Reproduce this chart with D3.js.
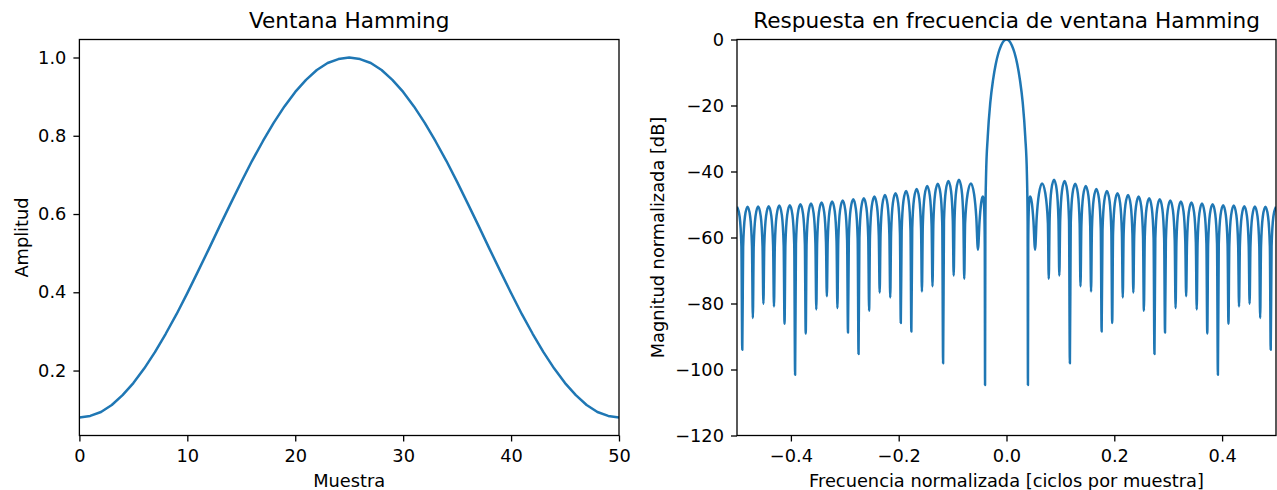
<!DOCTYPE html>
<html>
<head>
<meta charset="utf-8">
<script src="https://cdn.jsdelivr.net/npm/d3@7"></script>
<style>
  body { margin: 0; background: #fff; }
  text { font-family: "DejaVu Sans", sans-serif; fill: #000; }
</style>
</head>
<body>
<div id="container"></div>
<script>
// ventana de Hamming, 51 muestras
var hammingValues = [0.080, 0.084, 0.094, 0.112, 0.137, 0.168, 0.205, 0.247, 0.294, 0.344,
  0.398, 0.454, 0.511, 0.569, 0.626, 0.682, 0.736, 0.786, 0.833, 0.875,
  0.912, 0.943, 0.968, 0.986, 0.996, 1.000, 0.996, 0.986, 0.968, 0.943,
  0.912, 0.875, 0.833, 0.786, 0.736, 0.682, 0.626, 0.569, 0.511, 0.454,
  0.398, 0.344, 0.294, 0.247, 0.205, 0.168, 0.137, 0.112, 0.094, 0.084, 0.080];

// respuesta en frecuencia [frecuencia, dB], lado negativo
var negSide = [
  [-0.5000,-50.7],[-0.4951,-53.7],[-0.4918,-62.7],[-0.4902,-94.0],
  [-0.4886,-62.7],[-0.4853,-53.7],[-0.4804,-50.7],[-0.4755,-53.7],[-0.4722,-62.7],[-0.4706,-84.4],
  [-0.4690,-62.6],[-0.4657,-53.6],[-0.4608,-50.6],[-0.4559,-53.6],[-0.4526,-62.6],[-0.4510,-80.1],
  [-0.4494,-62.5],[-0.4461,-53.5],[-0.4412,-50.5],[-0.4363,-53.5],[-0.4330,-62.5],[-0.4314,-80.9],
  [-0.4298,-62.3],[-0.4265,-53.3],[-0.4216,-50.3],[-0.4167,-53.3],[-0.4134,-62.3],[-0.4118,-86.1],
  [-0.4102,-62.2],[-0.4069,-53.2],[-0.4020,-50.2],[-0.3971,-53.2],[-0.3938,-62.2],[-0.3922,-101.6],
  [-0.3906,-61.9],[-0.3873,-52.9],[-0.3824,-49.9],[-0.3774,-52.9],[-0.3741,-61.9],[-0.3725,-89.1],
  [-0.3709,-61.7],[-0.3676,-52.7],[-0.3627,-49.7],[-0.3578,-52.7],[-0.3545,-61.7],[-0.3529,-81.8],
  [-0.3513,-61.4],[-0.3480,-52.4],[-0.3431,-49.4],[-0.3382,-52.4],[-0.3349,-61.4],[-0.3333,-77.8],
  [-0.3317,-61.1],[-0.3284,-52.1],[-0.3235,-49.1],[-0.3186,-52.1],[-0.3153,-61.1],[-0.3137,-81.4],
  [-0.3121,-60.8],[-0.3088,-51.8],[-0.3039,-48.8],[-0.2990,-51.8],[-0.2957,-60.8],[-0.2941,-88.8],
  [-0.2925,-60.4],[-0.2892,-51.4],[-0.2843,-48.4],[-0.2794,-51.4],[-0.2761,-60.4],[-0.2745,-95.3],
  [-0.2729,-60.1],[-0.2696,-51.1],[-0.2647,-48.1],[-0.2598,-51.1],[-0.2565,-60.1],[-0.2549,-82.2],
  [-0.2533,-59.6],[-0.2500,-50.6],[-0.2451,-47.6],[-0.2402,-50.6],[-0.2369,-59.6],[-0.2353,-76.7],
  [-0.2337,-59.1],[-0.2304,-50.1],[-0.2255,-47.1],[-0.2206,-50.1],[-0.2173,-59.1],[-0.2157,-78.2],
  [-0.2141,-58.6],[-0.2108,-49.6],[-0.2059,-46.6],[-0.2010,-49.6],[-0.1977,-58.6],[-0.1961,-85.9],
  [-0.1945,-57.9],[-0.1912,-48.9],[-0.1863,-45.9],[-0.1814,-48.9],[-0.1781,-57.9],[-0.1765,-88.5],
  [-0.1749,-57.3],[-0.1716,-48.3],[-0.1667,-45.3],[-0.1618,-48.3],[-0.1585,-57.3],[-0.1569,-76.4],
  [-0.1553,-56.4],[-0.1520,-47.4],[-0.1471,-44.4],[-0.1422,-47.4],[-0.1389,-56.4],[-0.1373,-74.8],
  [-0.1357,-55.7],[-0.1324,-46.7],[-0.1275,-43.7],[-0.1225,-46.7],[-0.1192,-55.7],[-0.1176,-98.1],
  [-0.1160,-54.9],[-0.1127,-45.9],[-0.1078,-42.9],[-0.1029,-45.9],[-0.0996,-54.9],[-0.0980,-71.5],
  [-0.0964,-54.5],[-0.0931,-45.5],[-0.0882,-42.5],[-0.0833,-45.5],[-0.0800,-54.5],[-0.0784,-72.5],
  [-0.0768,-55.6],[-0.0720,-46.6],[-0.0660,-43.6],[-0.0600,-47.0],[-0.0560,-54.0],[-0.0530,-63.7],
  [-0.0500,-55.0],[-0.0470,-49.5],[-0.0440,-47.6],[-0.0425,-48.5],[-0.0412,-52.0],[-0.0403,-62.0],
  [-0.0398,-104.7]
];

// lobulo principal
var mainLobe = [
  [-0.0392,-55.0],[-0.0379,-41.0],[-0.0348,-29.5],[-0.0300,-19.0],[-0.0250,-12.3],
  [-0.0200,-7.5],[-0.0150,-4.1],[-0.0100,-1.8],[-0.0050,-0.4],[0,0],
  [0.0050,-0.4],[0.0100,-1.8],[0.0150,-4.1],[0.0200,-7.5],[0.0250,-12.3],
  [0.0300,-19.0],[0.0348,-29.5],[0.0379,-41.0],[0.0392,-55.0]
];

// lado positivo
var posSide = [
  [0.0398,-104.7],
  [0.0403,-62.0],[0.0412,-52.0],[0.0425,-48.5],[0.0440,-47.6],[0.0470,-49.5],[0.0500,-55.0],
  [0.0530,-63.7],[0.0560,-54.0],[0.0600,-47.0],[0.0660,-43.6],[0.0720,-46.6],[0.0768,-55.6],
  [0.0784,-72.5],[0.0800,-54.5],[0.0833,-45.5],[0.0882,-42.5],[0.0931,-45.5],[0.0964,-54.5],
  [0.0980,-71.5],[0.0996,-54.9],[0.1029,-45.9],[0.1078,-42.9],[0.1127,-45.9],[0.1160,-54.9],
  [0.1176,-98.1],[0.1192,-55.7],[0.1225,-46.7],[0.1275,-43.7],[0.1324,-46.7],[0.1357,-55.7],
  [0.1373,-74.8],[0.1389,-56.4],[0.1422,-47.4],[0.1471,-44.4],[0.1520,-47.4],[0.1553,-56.4],
  [0.1569,-76.4],[0.1585,-57.3],[0.1618,-48.3],[0.1667,-45.3],[0.1716,-48.3],[0.1749,-57.3],
  [0.1765,-88.5],[0.1781,-57.9],[0.1814,-48.9],[0.1863,-45.9],[0.1912,-48.9],[0.1945,-57.9],
  [0.1961,-85.9],[0.1977,-58.6],[0.2010,-49.6],[0.2059,-46.6],[0.2108,-49.6],[0.2141,-58.6],
  [0.2157,-78.2],[0.2173,-59.1],[0.2206,-50.1],[0.2255,-47.1],[0.2304,-50.1],[0.2337,-59.1],
  [0.2353,-76.7],[0.2369,-59.6],[0.2402,-50.6],[0.2451,-47.6],[0.2500,-50.6],[0.2533,-59.6],
  [0.2549,-82.2],[0.2565,-60.1],[0.2598,-51.1],[0.2647,-48.1],[0.2696,-51.1],[0.2729,-60.1],
  [0.2745,-95.3],[0.2761,-60.4],[0.2794,-51.4],[0.2843,-48.4],[0.2892,-51.4],[0.2925,-60.4],
  [0.2941,-88.8],[0.2957,-60.8],[0.2990,-51.8],[0.3039,-48.8],[0.3088,-51.8],[0.3121,-60.8],
  [0.3137,-81.4],[0.3153,-61.1],[0.3186,-52.1],[0.3235,-49.1],[0.3284,-52.1],[0.3317,-61.1],
  [0.3333,-77.8],[0.3349,-61.4],[0.3382,-52.4],[0.3431,-49.4],[0.3480,-52.4],[0.3513,-61.4],
  [0.3529,-81.8],[0.3545,-61.7],[0.3578,-52.7],[0.3627,-49.7],[0.3676,-52.7],[0.3709,-61.7],
  [0.3725,-89.1],[0.3741,-61.9],[0.3774,-52.9],[0.3824,-49.9],[0.3873,-52.9],[0.3906,-61.9],
  [0.3922,-101.6],[0.3938,-62.2],[0.3971,-53.2],[0.4020,-50.2],[0.4069,-53.2],[0.4102,-62.2],
  [0.4118,-86.1],[0.4134,-62.3],[0.4167,-53.3],[0.4216,-50.3],[0.4265,-53.3],[0.4298,-62.3],
  [0.4314,-80.9],[0.4330,-62.5],[0.4363,-53.5],[0.4412,-50.5],[0.4461,-53.5],[0.4494,-62.5],
  [0.4510,-80.1],[0.4526,-62.6],[0.4559,-53.6],[0.4608,-50.6],[0.4657,-53.6],[0.4690,-62.6],
  [0.4706,-84.4],[0.4722,-62.7],[0.4755,-53.7],[0.4804,-50.7],[0.4853,-53.7],[0.4886,-62.7],
  [0.4902,-94.0],[0.4918,-62.7],[0.4951,-53.7],[0.5000,-50.7]
];

var leftXTicks = [0, 10, 20, 30, 40, 50];
var leftYTicks = [0.2, 0.4, 0.6, 0.8, 1.0];
var rightXTicks = [-0.4, -0.2, 0.0, 0.2, 0.4];
var rightYTicks = [-120, -100, -80, -60, -40, -20, 0];

var width = 1277, height = 490;
var top0 = 39.5, bottom0 = 435.5;
var lineColor = "#1f77b4";
var fontSize = 17.8, titleSize = 21.6;

var svg = d3.select("#container").append("svg")
  .attr("width", width)
  .attr("height", height);

svg.append("rect").attr("width", width).attr("height", height).attr("fill", "#fff");

// escalas
var xLeft = d3.scaleLinear().domain([0, 50]).range([79.4, 619]);
var yLeft = d3.scaleLinear().domain([0.034, 1.046]).range([bottom0, top0]);
var xRight = d3.scaleLinear().domain([-0.5, 0.5]).range([737, 1276]);
var yRight = d3.scaleLinear().domain([-120, 0]).range([bottom0, top0]);

function drawPanel(x, y, xTicks, yTicks, xFmt, yFmt, id) {
  var g = svg.append("g");
  var x0 = x.range()[0], x1 = x.range()[1];

  g.append("clipPath").attr("id", id)
    .append("rect")
    .attr("x", x0).attr("y", top0)
    .attr("width", x1 - x0).attr("height", bottom0 - top0);

  var xAxis = g.append("g")
    .attr("transform", "translate(0," + bottom0 + ")")
    .call(d3.axisBottom(x).tickValues(xTicks).tickFormat(xFmt).tickSize(6).tickSizeOuter(0).tickPadding(8));
  var yAxis = g.append("g")
    .attr("transform", "translate(" + x0 + ",0)")
    .call(d3.axisLeft(y).tickValues(yTicks).tickFormat(yFmt).tickSize(6).tickSizeOuter(0).tickPadding(7));

  [xAxis, yAxis].forEach(function(a){
    a.select(".domain").remove();
    a.selectAll(".tick line").attr("stroke", "#000").attr("stroke-width", 1.3);
    a.selectAll(".tick text")
      .style("font-family", "DejaVu Sans")
      .style("font-size", fontSize + "px")
      .attr("fill", "#000");
  });
  return g;
}

function drawFrame(g, x) {
  var x0 = x.range()[0], x1 = x.range()[1];
  g.append("rect")
    .attr("x", x0).attr("y", top0)
    .attr("width", x1 - x0).attr("height", bottom0 - top0)
    .attr("fill", "none")
    .attr("stroke", "#000")
    .attr("stroke-width", 1.3);
}

// panel izquierdo: ventana
var left = drawPanel(xLeft, yLeft, leftXTicks, leftYTicks, d3.format("d"), d3.format(".1f"), "clipLeft");

var hammingLine = d3.line()
  .x(function(d, i){ return xLeft(i); })
  .y(function(d){ return yLeft(d); });

left.append("path")
  .datum(hammingValues)
  .attr("clip-path", "url(#clipLeft)")
  .attr("d", hammingLine)
  .attr("fill", "none")
  .attr("stroke", lineColor)
  .attr("stroke-width", 2.5)
  .attr("stroke-linejoin", "round");

drawFrame(left, xLeft);

left.append("text")
  .attr("x", (xLeft.range()[0] + xLeft.range()[1]) / 2)
  .attr("y", 28)
  .attr("text-anchor", "middle")
  .style("font-size", titleSize + "px")
  .text("Ventana Hamming");

left.append("text")
  .attr("x", (xLeft.range()[0] + xLeft.range()[1]) / 2)
  .attr("y", 487)
  .attr("text-anchor", "middle")
  .style("font-size", fontSize + "px")
  .text("Muestra");

left.append("text")
  .attr("transform", "translate(28," + (top0 + bottom0) / 2 + ") rotate(-90)")
  .attr("text-anchor", "middle")
  .style("font-size", fontSize + "px")
  .text("Amplitud");

// panel derecho: respuesta en frecuencia
var right = drawPanel(xRight, yRight, rightXTicks, rightYTicks, d3.format(".1f"), d3.format("d"), "clipRight");

var response = negSide.concat(mainLobe, posSide);

var responseLine = d3.line()
  .x(function(d){ return xRight(d[0]); })
  .y(function(d){ return yRight(d[1]); })
  .curve(d3.curveMonotoneX);

right.append("path")
  .datum(response)
  .attr("clip-path", "url(#clipRight)")
  .attr("d", responseLine)
  .attr("fill", "none")
  .attr("stroke", lineColor)
  .attr("stroke-width", 2.5)
  .attr("stroke-linejoin", "round");

drawFrame(right, xRight);

right.append("text")
  .attr("x", (xRight.range()[0] + xRight.range()[1]) / 2)
  .attr("y", 28)
  .attr("text-anchor", "middle")
  .style("font-size", titleSize + "px")
  .text("Respuesta en frecuencia de ventana Hamming");

right.append("text")
  .attr("x", (xRight.range()[0] + xRight.range()[1]) / 2)
  .attr("y", 487)
  .attr("text-anchor", "middle")
  .style("font-size", fontSize + "px")
  .text("Frecuencia normalizada [ciclos por muestra]");

right.append("text")
  .attr("transform", "translate(664," + (top0 + bottom0) / 2 + ") rotate(-90)")
  .attr("text-anchor", "middle")
  .style("font-size", fontSize + "px")
  .text("Magnitud normalizada [dB]");
</script>
</body>
</html>
